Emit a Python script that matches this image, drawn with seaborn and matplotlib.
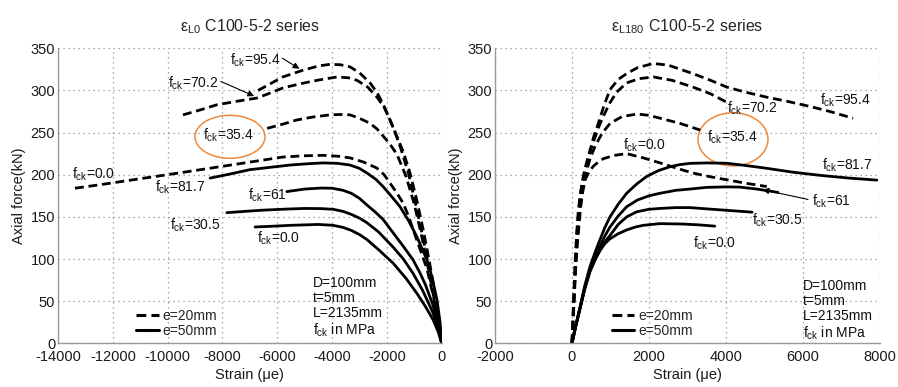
import matplotlib
matplotlib.use('Agg')
import matplotlib.pyplot as plt
import seaborn as sns
import pandas as pd
from matplotlib.patches import Ellipse
from matplotlib.lines import Line2D

sns.set_style('white')
plt.rcParams['font.family'] = ['Liberation Sans', 'DejaVu Sans']
plt.rcParams['mathtext.default'] = 'regular'
plt.rcParams['axes.unicode_minus'] = False

# ---------------- data: left panel (eps_L0) ----------------
L0_e20_954_x = [-6700, -6250, -5800, -5060, -4500, -4075, -3700, -3345, -3000, -2615, -2350, -2140, -1900, -1630, -1400, -1155, -910, -670, -450, -250, -100, 0]
L0_e20_954_y = [300, 308, 316, 324, 329, 331, 330.5, 328, 321, 309, 297, 284, 266, 245, 227, 202, 170, 134, 97, 60, 30, 0]
L0_e20_702_x = [-9440, -8800, -8200, -7500, -6740, -6250, -5790, -5150, -4550, -3820, -3400, -3090, -2700, -2360, -2100, -1885, -1700, -1500, -1200, -950, -700, -450, -200, 0]
L0_e20_702_y = [271, 277, 283, 287, 291, 297, 303, 308, 312, 316, 315, 312, 304, 292, 280, 265, 250, 232, 200, 165, 128, 88, 42, 0]
L0_e20_354_x = [-6370, -5800, -5280, -4700, -4075, -3700, -3345, -3000, -2615, -2350, -2140, -1880, -1630, -1300, -1000, -750, -500, -250, 0]
L0_e20_354_y = [255, 260, 265, 268.5, 271, 271.5, 271, 267, 261, 254, 246, 236, 224, 198, 165, 130, 90, 48, 0]
L0_e20_00_x = [-13380, -12500, -11260, -10640, -9400, -8200, -7000, -5790, -5000, -4330, -3800, -3345, -2850, -2370, -2100, -1885, -1650, -1400, -1200, -1045, -750, -535, -300, -120, 0]
L0_e20_00_y = [184, 188, 194, 197, 203, 209, 215, 221, 222.5, 223, 222, 220, 215, 208, 200, 190, 179, 166, 150, 135, 108, 88, 55, 25, 0]

L0_e50_817_x = [-8450, -7700, -7000, -6200, -5530, -4900, -4330, -3800, -3345, -3000, -2725, -2400, -2140, -1850, -1520, -1200, -900, -700, -535, -350, -170, -60, 0]
L0_e50_817_y = [196, 201, 206, 209, 211.5, 213, 214, 213.5, 211.5, 207.5, 202, 194.5, 186, 175, 162, 145, 126, 111, 99, 78, 51, 25, 0]
L0_e50_61_x = [-5650, -5000, -4400, -4000, -3600, -3300, -3000, -2725, -2400, -2140, -1770, -1400, -1045, -800, -600, -315, -120, 0]
L0_e50_61_y = [180, 183, 184.2, 184, 181.5, 178, 172, 164, 155, 147, 131, 115, 99, 84, 70, 45, 20, 0]
L0_e50_305_x = [-7840, -7200, -6500, -5700, -5000, -4400, -3965, -3600, -3300, -3000, -2725, -2300, -1770, -1400, -1045, -700, -315, -120, 0]
L0_e50_305_y = [155, 156.5, 158, 159.2, 160, 159.8, 159, 156.5, 153, 148.5, 143, 132, 114, 100, 83, 63, 36, 16, 0]
L0_e50_00_x = [-6810, -6100, -5500, -4500, -3965, -3600, -3300, -3000, -2725, -2300, -1770, -1300, -900, -600, -315, -120, 0]
L0_e50_00_y = [138, 139, 140, 141, 140, 137.5, 134, 129, 123, 111, 95, 77, 59, 44, 28, 13, 0]

# ---------------- data: right panel (eps_L180) ----------------
L180_e20_954_x = [0, 40, 80, 120, 160, 208, 270, 330, 400, 467, 570, 684, 830, 987, 1200, 1420, 1700, 2112, 2500, 3140, 3600, 4020, 4500, 5060, 5600, 6180, 6700, 7300]
L180_e20_954_y = [0, 50, 95, 130, 155, 175, 192, 206, 218, 229, 246, 261, 282, 301, 313, 320, 327, 332, 330, 320, 312, 304, 298, 292, 287, 281, 275, 267]
L180_e20_702_x = [0, 45, 85, 125, 180, 240, 300, 420, 550, 680, 800, 980, 1160, 1420, 1750, 2112, 2600, 3140, 3600, 4020]
L180_e20_702_y = [0, 50, 92, 127, 160, 182, 198, 220, 238, 255, 268, 285, 298, 309, 314, 316, 312, 304, 296, 286]
L180_e20_354_x = [0, 50, 90, 130, 200, 270, 350, 470, 600, 780, 990, 1300, 1690, 2000, 2290, 2800, 3330]
L180_e20_354_y = [0, 50, 90, 120, 158, 182, 200, 219, 234, 249, 261, 269, 272, 270.5, 267, 261, 253]
L180_e20_00_x = [0, 55, 95, 140, 220, 280, 350, 450, 553, 680, 813, 1100, 1420, 1850, 2290, 2700, 3140, 3600, 4020, 4500, 5060]
L180_e20_00_y = [0, 50, 88, 118, 160, 180, 195, 204, 210, 215, 219, 223, 225, 220, 214, 208, 202, 197.5, 194, 190, 186]

L180_e50_817_x = [0, 100, 208, 330, 467, 600, 727, 850, 987, 1200, 1420, 1680, 1940, 2250, 2545, 2800, 3064, 3500, 4020, 4500, 5000, 5740, 6500, 7200, 7920]
L180_e50_817_y = [0, 22, 43, 68, 91, 108, 123, 137, 150, 165, 178, 189, 198, 205, 209.5, 212, 213.5, 214, 213.6, 211, 208, 203, 199, 196, 193.6]
L180_e50_61_x = [0, 100, 208, 330, 467, 600, 727, 850, 987, 1200, 1420, 1700, 2000, 2285, 2700, 3064, 3500, 4000, 4360, 4800, 5220, 5350]
L180_e50_61_y = [0, 21, 42, 66, 88, 103, 115, 127, 138, 151, 162, 170, 175, 178, 181.5, 183, 185, 185.6, 185.3, 183, 180, 179]
L180_e50_305_x = [0, 100, 208, 330, 467, 600, 727, 850, 987, 1200, 1420, 1680, 2000, 2285, 2700, 3064, 3500, 4100, 4680]
L180_e50_305_y = [0, 21, 41, 65, 86, 100, 111, 120, 128, 141, 150, 156, 159, 160, 161, 161, 159.5, 157.5, 155.6]
L180_e50_00_x = [0, 100, 208, 330, 467, 600, 727, 850, 987, 1200, 1420, 1650, 1853, 2285, 2880, 3300, 3710]
L180_e50_00_y = [0, 21, 41, 64, 85, 99, 110, 118, 124, 130, 134.5, 138, 140, 142, 141.5, 140.5, 139]

left_curves = [
    ('95.4', 'e=20mm', L0_e20_954_x, L0_e20_954_y),
    ('70.2', 'e=20mm', L0_e20_702_x, L0_e20_702_y),
    ('35.4', 'e=20mm', L0_e20_354_x, L0_e20_354_y),
    ('0.0', 'e=20mm', L0_e20_00_x, L0_e20_00_y),
    ('81.7', 'e=50mm', L0_e50_817_x, L0_e50_817_y),
    ('61', 'e=50mm', L0_e50_61_x, L0_e50_61_y),
    ('30.5', 'e=50mm', L0_e50_305_x, L0_e50_305_y),
    ('0.0b', 'e=50mm', L0_e50_00_x, L0_e50_00_y),
]
right_curves = [
    ('95.4', 'e=20mm', L180_e20_954_x, L180_e20_954_y),
    ('70.2', 'e=20mm', L180_e20_702_x, L180_e20_702_y),
    ('35.4', 'e=20mm', L180_e20_354_x, L180_e20_354_y),
    ('0.0', 'e=20mm', L180_e20_00_x, L180_e20_00_y),
    ('81.7', 'e=50mm', L180_e50_817_x, L180_e50_817_y),
    ('61', 'e=50mm', L180_e50_61_x, L180_e50_61_y),
    ('30.5', 'e=50mm', L180_e50_305_x, L180_e50_305_y),
    ('0.0b', 'e=50mm', L180_e50_00_x, L180_e50_00_y),
]


def to_df(curves):
    rows = []
    for name, ecc, xs, ys in curves:
        for x, y in zip(xs, ys):
            rows.append({'strain': x, 'force': y, 'curve': name + ecc, 'ecc': ecc})
    return pd.DataFrame(rows)


DASH = (3.2, 1.7)
fig = plt.figure(figsize=(8.98, 3.87), dpi=100)
ax1 = fig.add_axes([58 / 898, 1 - 343.3 / 387, 383.7 / 898, 295 / 387])
ax2 = fig.add_axes([495 / 898, 1 - 343.3 / 387, 385 / 898, 295 / 387])

for ax, curves in ((ax1, left_curves), (ax2, right_curves)):
    df = to_df(curves)
    sns.lineplot(data=df, x='strain', y='force', units='curve', estimator=None,
                 style='ecc', dashes={'e=20mm': DASH, 'e=50mm': ''}, sort=False,
                 color='black', lw=2.0, legend=False, ax=ax)

for ax in (ax1, ax2):
    ax.set_ylim(0, 350)
    ax.set_yticks(range(0, 351, 50))
    ax.grid(True, color='#8f8f8f', linestyle=(0, (1, 3)), linewidth=0.9)
    for s in ('top', 'right'):
        ax.spines[s].set_visible(False)
    for s in ('left', 'bottom'):
        ax.spines[s].set_color('#9a9a9a')
        ax.spines[s].set_linewidth(1.0)
    ax.tick_params(direction='in', length=3, color='#9a9a9a', labelsize=10.5,
                   labelcolor='#1a1a1a')
    ax.tick_params(axis='x', pad=5)
    ax.tick_params(axis='y', pad=2)
    ax.set_ylabel('Axial force(kN)', fontsize=10.5, color='#1a1a1a', labelpad=3)
    ax.set_xlabel('Strain (\u03bce)', fontsize=10.5, color='#1a1a1a', labelpad=3)
    ax.set_axisbelow(True)

ax1.set_xlim(-14000, 0)
ax1.set_xticks(range(-14000, 1, 2000))
ax2.set_xlim(-2000, 8000)
ax2.set_xticks(range(-2000, 8001, 2000))

ax1.set_title(r'$\varepsilon_{L0}$ C100-5-2 series', fontsize=11.5, pad=12)
ax2.set_title(r'$\varepsilon_{L180}$ C100-5-2 series', fontsize=11.5, pad=12)

TXT = dict(fontsize=10, color='#111111', va='center', ha='left')
# left labels
ax1.text(-7724, 336, r'f$_{ck}$=95.4', **TXT)
ax1.text(-9975, 308, r'f$_{ck}$=70.2', **TXT)
ax1.text(-8700, 247, r'f$_{ck}$=35.4', **TXT)
ax1.text(-13500, 201, r'f$_{ck}$=0.0', **TXT)
ax1.text(-10460, 185, r'f$_{ck}$=81.7', **TXT)
ax1.text(-7056, 176, r'f$_{ck}$=61', **TXT)
ax1.text(-9913, 140, r'f$_{ck}$=30.5', **TXT)
ax1.text(-6750, 124, r'f$_{ck}$=0.0', **TXT)
ARW = dict(arrowstyle='-|>', color='black', lw=0.8, mutation_scale=9)
ax1.annotate('', xy=(-5107, 324), xytext=(-5900, 340), arrowprops=ARW)
ax1.annotate('', xy=(-6750, 292), xytext=(-8150, 312), arrowprops=ARW)
ax1.add_patch(Ellipse((-7724, 245), 2554, 51, fill=False, edgecolor='#f0883a', lw=1.1))

# right labels
ax2.text(6440, 288, r'f$_{ck}$=95.4', **TXT)
ax2.text(4017, 279, r'f$_{ck}$=70.2', **TXT)
ax2.text(3497, 245, r'f$_{ck}$=35.4', **TXT)
ax2.text(1333, 235, r'f$_{ck}$=0.0', **TXT)
ax2.text(6484, 211, r'f$_{ck}$=81.7', **TXT)
ax2.text(6225, 168, r'f$_{ck}$=61', **TXT)
ax2.text(4666, 146, r'f$_{ck}$=30.5', **TXT)
ax2.text(3150, 119, r'f$_{ck}$=0.0', **TXT)
ax2.annotate('', xy=(4880, 183), xytext=(6200, 170), arrowprops=ARW)
ax2.add_patch(Ellipse((4181, 242), 1818, 63, fill=False, edgecolor='#f0883a', lw=1.1))

# info blocks
info = 'D=100mm\nt=5mm\nL=2135mm\nf$_{ck}$ in MPa'
ax1.text(0.665, 0.228, info, transform=ax1.transAxes, fontsize=10, va='top', ha='left',
         linespacing=1.1, color='#111111')
ax2.text(0.80, 0.218, info, transform=ax2.transAxes, fontsize=10, va='top', ha='left',
         linespacing=1.1, color='#111111')

handles = [Line2D([], [], color='black', lw=2.2, linestyle=(0, DASH)),
           Line2D([], [], color='black', lw=2.2, linestyle='-')]
for ax, xa in ((ax1, 0.19), (ax2, 0.29)):
    ax.legend(handles, ['e=20mm', 'e=50mm'], loc='lower left', bbox_to_anchor=(xa, 0.0),
              frameon=False, fontsize=10, handlelength=1.6, handletextpad=0.3,
              labelspacing=0.05, borderaxespad=0.2, borderpad=0.2)

fig.savefig('out.png', dpi=100)
